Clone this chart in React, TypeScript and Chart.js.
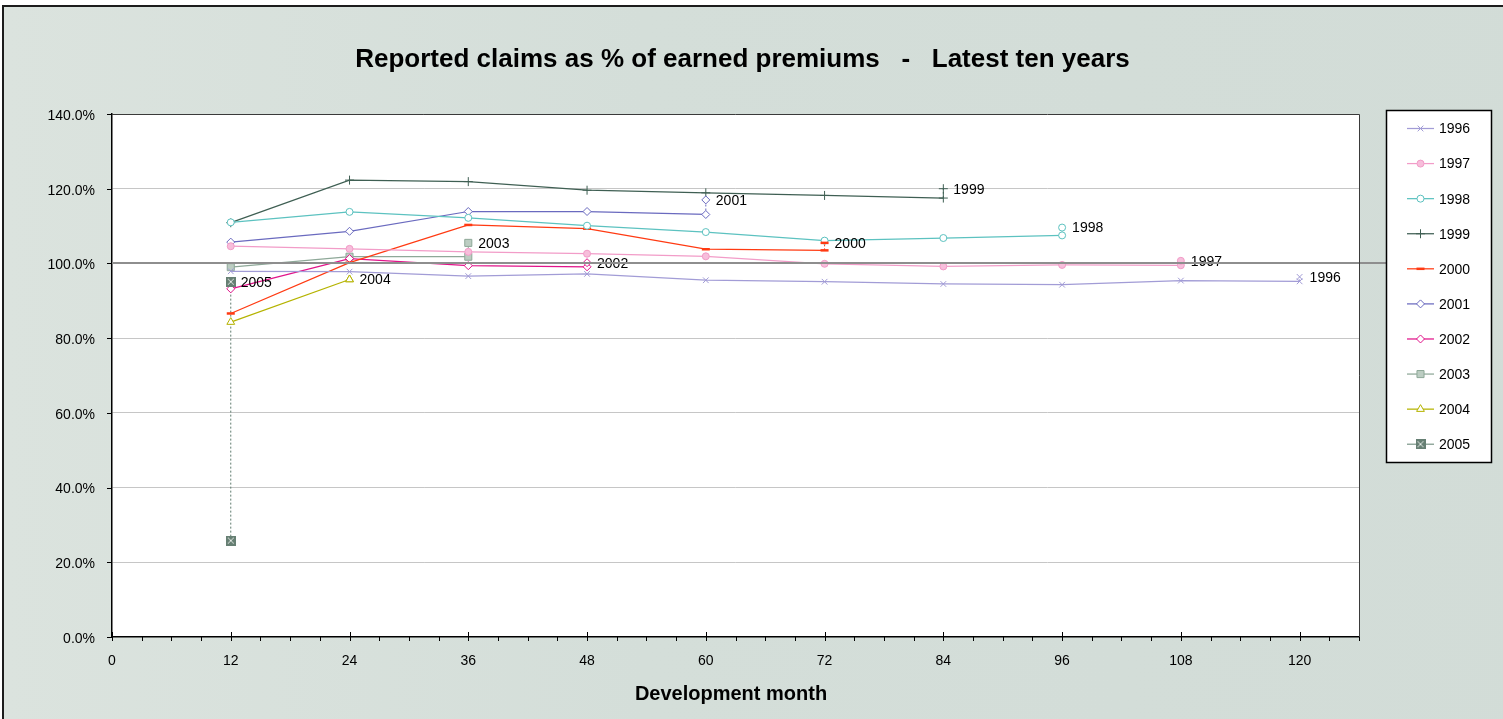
import React, { useEffect, useRef } from 'react';
import { Chart, registerables } from 'chart.js';
import { drawPoint } from 'chart.js/helpers';

Chart.register(...registerables);

// Underwriting years and development months
const years = ['1996', '1997', '1998', '1999', '2000', '2001', '2002', '2003', '2004', '2005'];
const months = [12, 24, 36, 48, 60, 72, 84, 96, 108, 120];
const monthTicks = [0, 12, 24, 36, 48, 60, 72, 84, 96, 108, 120];
const pctTicks = [0, 20, 40, 60, 80, 100, 120, 140];

// Reported claims as % of earned premiums, by development month
const r1996 = [97.9, 97.8, 96.6, 97.2, 95.5, 95.1, 94.5, 94.3, 95.4, 95.2];
const r1997 = [104.6, 103.9, 103.1, 102.6, 101.9, 99.9, 99.2, 99.6, 99.5];
const r1998 = [111.0, 113.8, 112.2, 110.1, 108.4, 106.1, 106.8, 107.5];
const r1999 = [110.9, 122.3, 121.9, 119.6, 118.9, 118.2, 117.5];
const r2000 = [86.6, 100.2, 110.3, 109.3, 103.8, 103.5];
const r2001 = [105.7, 108.6, 113.9, 113.9, 113.1];
const r2002 = [93.2, 101.3, 99.4, 99.1];
const r2003 = [99.0, 101.8, 101.8];
const r2004 = [84.3, 95.7];
const r2005 = [25.8];
const ratios = [r1996, r1997, r1998, r1999, r2000, r2001, r2002, r2003, r2004, r2005];

// Where each year's name tag sits (at its latest development month)
const tagValues = [96.4, 100.7, 109.6, 120.0, 105.5, 117.0, 100.2, 105.5, 95.7, 95.1];

const breakEven = 100;

const TITLE = 'Reported claims as % of earned premiums   -   Latest ten years';
const X_TITLE = 'Development month';
const FONT = '"Liberation Sans", Arial, Helvetica, sans-serif';

type SeriesStyle = {
  line: string;
  stroke: string;
  fill: string;
  point: string;
  radius: number;
  pointWidth: number;
};

const styles: SeriesStyle[] = [
  { line: '#a29cd6', stroke: '#a29cd6', fill: 'rgba(0,0,0,0)', point: 'crossRot', radius: 4, pointWidth: 1 },
  { line: '#f29cc8', stroke: '#f29cc8', fill: '#f7bedb', point: 'circle', radius: 3.5, pointWidth: 1 },
  { line: '#5cc2c0', stroke: '#5cc2c0', fill: '#ffffff', point: 'circle', radius: 3.5, pointWidth: 1 },
  { line: '#3f5f53', stroke: '#3f5f53', fill: 'rgba(0,0,0,0)', point: 'cross', radius: 4.5, pointWidth: 1 },
  { line: '#ff3a12', stroke: '#ff3a12', fill: '#ff3a12', point: 'line', radius: 4, pointWidth: 2.5 },
  { line: '#6a6abf', stroke: '#6a6abf', fill: '#ffffff', point: 'rectRot', radius: 4, pointWidth: 1 },
  { line: '#e2138a', stroke: '#e2138a', fill: '#ffffff', point: 'rectRot', radius: 4, pointWidth: 1 },
  { line: '#8ea898', stroke: '#8ea898', fill: '#bccdc2', point: 'rect', radius: 5, pointWidth: 1 },
  { line: '#b5b300', stroke: '#b5b300', fill: '#ffffff', point: 'triangle', radius: 4.5, pointWidth: 1 },
  { line: '#7f998c', stroke: '#5f7b6e', fill: '#667f73', point: 'boxX', radius: 4.5, pointWidth: 1 },
];

function makeBoxX(): HTMLCanvasElement {
  const c = document.createElement('canvas');
  c.width = 10;
  c.height = 10;
  const g = c.getContext('2d')!;
  g.fillStyle = '#667f73';
  g.fillRect(0, 0, 10, 10);
  g.strokeStyle = '#e6ece8';
  g.lineWidth = 1;
  g.beginPath();
  g.moveTo(2, 2);
  g.lineTo(8, 8);
  g.moveTo(8, 2);
  g.lineTo(2, 8);
  g.stroke();
  return c;
}

export default function App() {
  const canvasRef = useRef<HTMLCanvasElement | null>(null);

  useEffect(() => {
    const canvas = canvasRef.current;
    if (!canvas) return;
    const boxX = makeBoxX();
    const pointStyleOf = (s: SeriesStyle): any => (s.point === 'boxX' ? boxX : s.point);

    const n = years.length;
    const mainSets = years.map((yr, i) => {
      const s = styles[i];
      return {
        label: yr,
        data: ratios[i].map((v, j) => ({ x: months[j], y: v })),
        showLine: true,
        borderColor: s.line,
        backgroundColor: s.fill,
        borderWidth: 1.25,
        pointStyle: pointStyleOf(s),
        pointRadius: s.radius,
        pointBorderColor: s.stroke,
        pointBackgroundColor: s.fill,
        pointBorderWidth: s.pointWidth,
        order: 1,
      };
    });
    const tagSets = years.map((yr, i) => {
      const s = styles[i];
      const last = ratios[i].length - 1;
      return {
        label: yr + ' tag',
        data: [{ x: months[last], y: tagValues[i] }],
        showLine: false,
        pointStyle: pointStyleOf(s),
        pointRadius: s.radius,
        pointBorderColor: s.stroke,
        pointBackgroundColor: s.fill,
        pointBorderWidth: s.pointWidth,
        order: 0,
      };
    });
    const leaderSets = years.map((yr, i) => {
      const s = styles[i];
      const last = ratios[i].length - 1;
      return {
        label: yr + ' leader',
        data: [
          { x: months[last], y: ratios[i][last] },
          { x: months[last], y: tagValues[i] },
        ],
        showLine: true,
        borderColor: s.stroke,
        borderWidth: 1,
        borderDash: [2, 2],
        pointRadius: 0,
        order: 2,
      };
    });

    const decor = {
      id: 'decor',
      beforeDraw(chart: any) {
        const { ctx, chartArea: a } = chart;
        ctx.save();
        ctx.fillStyle = '#ffffff';
        ctx.fillRect(a.left, a.top, a.right - a.left, a.bottom - a.top);
        ctx.restore();
      },
      afterDatasetsDraw(chart: any) {
        const { ctx, chartArea: a } = chart;
        const ys = chart.scales.y;
        ctx.save();
        // year tags
        ctx.font = `14px ${FONT}`;
        ctx.fillStyle = '#000';
        ctx.textBaseline = 'middle';
        ctx.textAlign = 'left';
        for (let i = 0; i < n; i++) {
          const el = chart.getDatasetMeta(n + i).data[0];
          ctx.fillText(years[i], el.x + 10, el.y + 1);
        }
        // 100% reference line, running out to the legend
        const yb = Math.round(ys.getPixelForValue(breakEven));
        ctx.strokeStyle = '#8e8e8e';
        ctx.lineWidth = 2;
        ctx.beginPath();
        ctx.moveTo(a.left, yb);
        ctx.lineTo(1386, yb);
        ctx.stroke();
        ctx.restore();
      },
      afterDraw(chart: any) {
        const { ctx, chartArea: a } = chart;
        const xs = chart.scales.x;
        const ys = chart.scales.y;
        ctx.save();
        // plot frame (top and right)
        ctx.strokeStyle = '#3a3a3a';
        ctx.lineWidth = 1;
        ctx.beginPath();
        ctx.moveTo(a.left, a.top + 0.5);
        ctx.lineTo(a.right + 0.5, a.top + 0.5);
        ctx.lineTo(a.right + 0.5, a.bottom);
        ctx.stroke();

        // axis tick marks
        ctx.strokeStyle = '#000';
        ctx.lineWidth = 1;
        ctx.beginPath();
        for (let m = 0; m <= 126; m += 3) {
          const px = Math.round(xs.getPixelForValue(m)) + 0.5;
          if (m % 12 === 0) {
            ctx.moveTo(px, a.bottom - 5);
            ctx.lineTo(px, a.bottom + 4);
          } else {
            ctx.moveTo(px, a.bottom);
            ctx.lineTo(px, a.bottom + 4);
          }
        }
        for (const v of pctTicks) {
          const py = Math.round(ys.getPixelForValue(v)) + 0.5;
          ctx.moveTo(a.left - 5, py);
          ctx.lineTo(a.left, py);
        }
        ctx.stroke();

        // titles
        ctx.fillStyle = '#000';
        ctx.textAlign = 'center';
        ctx.textBaseline = 'alphabetic';
        ctx.font = `bold 26px ${FONT}`;
        ctx.fillText(TITLE, 742.5, 66.5);
        ctx.font = `bold 20px ${FONT}`;
        ctx.fillText(X_TITLE, 731, 700);

        // legend
        const lx = 1386.5;
        const ly = 110.5;
        ctx.fillStyle = '#ffffff';
        ctx.fillRect(lx, ly, 105, 352);
        ctx.strokeStyle = '#000';
        ctx.lineWidth = 1.5;
        ctx.strokeRect(lx, ly, 105, 352);
        ctx.font = `14px ${FONT}`;
        ctx.textAlign = 'left';
        ctx.textBaseline = 'middle';
        for (let i = 0; i < n; i++) {
          const s = styles[i];
          const cy = 128.5 + i * 35.08;
          ctx.strokeStyle = s.line;
          ctx.lineWidth = 1.25;
          ctx.beginPath();
          ctx.moveTo(1407, cy);
          ctx.lineTo(1434, cy);
          ctx.stroke();
          ctx.fillStyle = s.fill;
          ctx.strokeStyle = s.stroke;
          ctx.lineWidth = s.pointWidth;
          drawPoint(ctx, { pointStyle: pointStyleOf(s), radius: s.radius, rotation: 0, borderWidth: s.pointWidth } as any, 1420.5, cy);
          ctx.fillStyle = '#000';
          ctx.fillText(years[i], 1439, cy + 1);
        }
        ctx.restore();
      },
    };

    const chart = new Chart(canvas, {
      type: 'scatter',
      data: { datasets: [...mainSets, ...tagSets, ...leaderSets] as any },
      options: {
        animation: false,
        responsive: false,
        events: [],
        layout: { padding: { left: 0, top: 114, right: 144, bottom: 0 } },
        plugins: {
          legend: { display: false },
          title: { display: false },
          tooltip: { enabled: false },
        },
        scales: {
          x: {
            type: 'linear',
            min: 0,
            max: 126,
            afterBuildTicks: (s: any) => {
              s.ticks = monthTicks.map((v) => ({ value: v }));
            },
            afterFit: (s: any) => {
              s.height = 82;
            },
            grid: { drawOnChartArea: false, drawTicks: false },
            border: { display: true, color: '#000', width: 1.5 },
            ticks: {
              padding: 16,
              color: '#000',
              autoSkip: false,
              maxRotation: 0,
              font: { family: FONT, size: 14 },
              callback: (v: any) => String(v),
            },
          },
          y: {
            type: 'linear',
            min: 0,
            max: 140,
            afterBuildTicks: (s: any) => {
              s.ticks = pctTicks.map((v) => ({ value: v }));
            },
            afterFit: (s: any) => {
              s.width = 112;
            },
            grid: {
              drawTicks: false,
              lineWidth: 1,
              color: (c: any) => {
                const v = c.tick ? c.tick.value : -1;
                return v === 0 || v === 140 || v === breakEven ? 'rgba(0,0,0,0)' : '#c6c6c6';
              },
            },
            border: { display: true, color: '#000', width: 1.5 },
            ticks: {
              padding: 17,
              labelOffset: 2,
              color: '#000',
              font: { family: FONT, size: 14 },
              callback: (v: any) => Number(v).toFixed(1) + '%',
            },
          },
        },
      },
      plugins: [decor],
    });

    return () => {
      chart.destroy();
    };
  }, []);

  return (
    <div
      style={{
        position: 'absolute',
        left: 0,
        top: 0,
        width: 1503,
        height: 719,
        overflow: 'hidden',
        background: '#ffffff',
      }}
    >
      <div
        style={{
          position: 'absolute',
          left: 2,
          top: 5,
          width: 1600,
          height: 800,
          border: '2px solid #1c1c1c',
          background: 'linear-gradient(90deg, #dbe3de 0%, #d4ded9 40%, #d2dcd7 100%)',
        }}
      />
      <canvas
        ref={canvasRef}
        width={1503}
        height={719}
        style={{ position: 'absolute', left: 0, top: 0, width: 1503, height: 719 }}
      />
    </div>
  );
}
